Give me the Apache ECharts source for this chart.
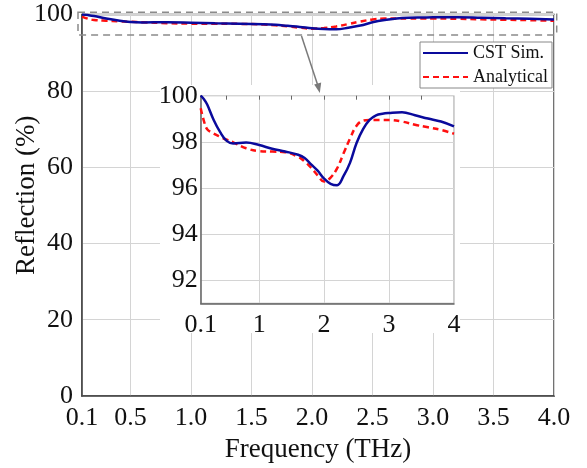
<!DOCTYPE html>
<html>
<head>
<meta charset="utf-8">
<style>
  html, body { margin: 0; padding: 0; background: #fff; }
  #chart { width: 587px; height: 468px; }
</style>
<script src="https://cdn.jsdelivr.net/npm/echarts@6/dist/echarts.min.js"></script>
</head>
<body>
<div id="chart"></div>
<script>
// Frequency samples (THz)
const freq = [0.1, 0.15, 0.2, 0.3, 0.4, 0.5, 0.6, 0.8, 1.0, 1.2, 1.4, 1.6, 1.7, 1.8, 1.9, 2.0,
  2.1, 2.2, 2.3, 2.4, 2.5, 2.6, 2.7, 2.8, 2.9, 3.0, 3.2, 3.4, 3.6, 3.8, 4.0];
// Reflection (%) from full-wave simulation
const cstSim = [100.0, 99.85, 99.62, 98.95, 98.42, 98.04, 97.93, 97.97, 97.86, 97.70, 97.58, 97.44,
  97.30, 97.02, 96.75, 96.40, 96.18, 96.12, 96.52, 97.10, 97.95, 98.55, 98.95, 99.15, 99.22, 99.25,
  99.28, 99.15, 99.01, 98.88, 98.67];
// Reflection (%) from the analytical model
const analytical = [99.46, 98.9, 98.55, 98.36, 98.22, 98.09, 97.98, 97.72, 97.60, 97.58, 97.55, 97.35,
  97.15, 96.88, 96.55, 96.28, 96.45, 96.85, 97.50, 98.15, 98.70, 98.92, 98.95, 98.95, 98.95, 98.95,
  98.88, 98.74, 98.63, 98.52, 98.35];

// Axis tick labels
const mainXTicks = [0.1, 0.5, 1.0, 1.5, 2.0, 2.5, 3.0, 3.5, 4.0];
const insetXTicks = [0.1, 1, 2, 3, 4];
const insetXMinor = [0.5, 1, 1.5, 2, 2.5, 3, 3.5];
const insetYTicks = [92, 94, 96, 98, 100];

const seriesNames = ['CST Sim.', 'Analytical'];

const FONT = "'Liberation Serif', 'Times New Roman', serif";
const BLUE = '#0a0a9c';
const RED = '#ff1010';

const pairs = (ys) => freq.map((f, i) => [f, ys[i]]);

const chart = echarts.init(document.getElementById('chart'), null, { renderer: 'canvas' });

const labelStyle = { fontFamily: FONT, fontSize: 26, color: '#111' };

chart.setOption({
  animation: false,
  backgroundColor: '#fff',
  grid: [
    { left: 82, right: 33, top: 14.5, bottom: 70, show: true, borderColor: '#444', borderWidth: 1.5, z: 0 },
    { left: 200.7, right: 133, top: 95.7, bottom: 164.7, show: true, borderColor: '#999', borderWidth: 1, z: 2 }
  ],
  legend: {
    data: seriesNames,
    orient: 'vertical',
    left: 420, top: 42,
    itemWidth: 45, itemHeight: 20, itemGap: 6,
    padding: [2, 4, 2, 2],
    backgroundColor: '#fff',
    borderColor: '#888', borderWidth: 1,
    itemStyle: { opacity: 0 },
    textStyle: { fontFamily: FONT, fontSize: 18, color: '#111' },
    z: 10
  },
  xAxis: [
    {
      type: 'value', gridIndex: 0, min: 0.1, max: 4.0,
      name: 'Frequency (THz)', nameLocation: 'middle', nameGap: 40,
      nameTextStyle: { fontFamily: FONT, fontSize: 27, color: '#111' },
      axisLine: { show: true, lineStyle: { color: '#444', width: 1.5 } },
      axisTick: { show: false, customValues: mainXTicks },
      axisLabel: Object.assign({ customValues: mainXTicks, margin: 9, formatter: v => v.toFixed(1) }, labelStyle),
      splitLine: { show: true, lineStyle: { color: '#d4d4d4', width: 1 } },
      z: 0
    },
    {
      type: 'value', gridIndex: 1, min: 0.1, max: 4,
      axisLine: { show: true, lineStyle: { color: '#666', width: 1.5 } },
      axisTick: { show: false, customValues: insetXTicks },
      axisLabel: Object.assign({ customValues: insetXTicks, margin: 9, formatter: v => String(v) }, labelStyle),
      splitLine: { show: true, lineStyle: { color: '#d4d4d4', width: 1 } },
      z: 3
    },
    {
      type: 'value', gridIndex: 1, min: 0.1, max: 4,
      axisLine: { show: false },
      axisTick: { show: true, inside: true, length: 4, customValues: insetXMinor, lineStyle: { color: '#666', width: 1 } },
      axisLabel: { show: false },
      splitLine: { show: false },
      z: 3
    }
  ],
  yAxis: [
    {
      type: 'value', gridIndex: 0, min: 0, max: 100, interval: 20,
      name: 'Reflection (%)', nameLocation: 'middle', nameGap: 42, nameMoveOverlap: false,
      nameTextStyle: { fontFamily: FONT, fontSize: 27, color: '#111', padding: [0, 0, 0, 20] },
      axisLine: { show: true, lineStyle: { color: '#444', width: 1.5 } },
      axisTick: { show: false },
      axisLabel: Object.assign({ margin: 9 }, labelStyle),
      splitLine: { show: true, lineStyle: { color: '#d4d4d4', width: 1 } },
      z: 0
    },
    {
      type: 'value', gridIndex: 1, min: 91, max: 100,
      axisLine: { show: true, lineStyle: { color: '#666', width: 1.5 } },
      axisTick: { show: false, customValues: insetYTicks },
      axisLabel: Object.assign({ customValues: insetYTicks, margin: 3 }, labelStyle),
      splitLine: { show: true, lineStyle: { color: '#d4d4d4', width: 1 } },
      z: 3
    }
  ],
  graphic: [
    // white patch behind the zoomed-in panel
    { type: 'rect', z: 1, silent: true,
      shape: { x: 160, y: 85, width: 300, height: 248 },
      style: { fill: '#fff' } },
    // dashed box marking the zoomed region
    { type: 'rect', z: 8, silent: true,
      shape: { x: 78, y: 12.3, width: 478.7, height: 22.7 },
      style: { fill: 'none', stroke: '#8a8a8a', lineWidth: 1.5, lineDash: [7, 5] } },
    // arrow pointing to the zoomed panel
    { type: 'line', z: 8, silent: true,
      shape: { x1: 301.5, y1: 36, x2: 318, y2: 86 },
      style: { stroke: '#7a7a7a', lineWidth: 1.5 } },
    { type: 'polygon', z: 8, silent: true,
      shape: { points: [[319.8, 93], [314.2, 84.5], [321.2, 82.5]] },
      style: { fill: '#7a7a7a' } }
  ],
  series: [
    { name: seriesNames[0], type: 'line', xAxisIndex: 0, yAxisIndex: 0, data: pairs(cstSim),
      smooth: 0.4, symbol: 'none', lineStyle: { color: BLUE, width: 2.5 }, itemStyle: { color: BLUE }, z: 6 },
    { name: seriesNames[1], type: 'line', xAxisIndex: 0, yAxisIndex: 0, data: pairs(analytical),
      smooth: 0.4, symbol: 'none', lineStyle: { color: RED, width: 2.5, type: [6, 4] }, itemStyle: { color: RED }, z: 5 },
    { name: seriesNames[0], type: 'line', xAxisIndex: 1, yAxisIndex: 1, data: pairs(cstSim),
      smooth: 0.4, symbol: 'none', lineStyle: { color: BLUE, width: 2.5 }, itemStyle: { color: BLUE }, z: 6 },
    { name: seriesNames[1], type: 'line', xAxisIndex: 1, yAxisIndex: 1, data: pairs(analytical),
      smooth: 0.4, symbol: 'none', lineStyle: { color: RED, width: 2.5, type: [6, 4] }, itemStyle: { color: RED }, z: 5 }
  ]
});
</script>
</body>
</html>
